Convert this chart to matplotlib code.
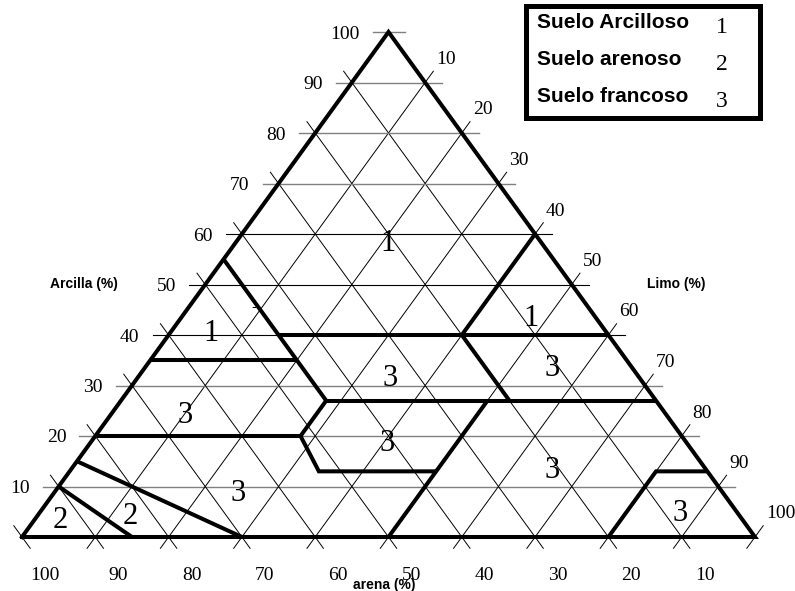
import numpy as np
import matplotlib.pyplot as plt
from matplotlib.patches import Rectangle

# ============================
# Datos (todo en %: arena, arcilla; el limo es el resto)
# ============================
MARCAS = [10, 20, 30, 40, 50, 60, 70, 80, 90, 100]
ARCILLA_NEGRAS = [40, 50, 60]  # horizontales negras, las demás grises

TRIANGULO = [(100, 0), (0, 0), (0, 100), (100, 0)]

# límites de las clases, cada uno como lista de (arena, arcilla)
LIM_ARENA_45 = [(45, 55), (45, 27)]
LIM_ARCILLA_35 = [(65, 35), (45, 35)]
LIM_ARCILLA_40 = [(45, 40), (0, 40)]
LIM_ARCILLA_27 = [(45, 27), (0, 27)]
LIM_CENTRO = [(45, 27), (52, 20), (53, 13), (37, 13)]
LIM_ARCILLA_20 = [(80, 20), (52, 20)]
LIM_LIMO_50 = [(23, 27), (50, 0)]
LIM_LIMO_40 = [(0, 60), (20, 40), (20, 27)]
LIM_LIMO_80 = [(20, 0), (7, 13), (0, 13)]
LIM_ARENOSO_A = [(90, 10), (85, 0)]
LIM_ARENOSO_B = [(85, 15), (70, 0)]

# números de clase dentro del triángulo
CLASE_TXT = ["1", "1", "1", "3", "3", "3", "3", "3", "3", "3", "2", "2"]
CLASE_ARENA = [20.7, 53.7, 8.5, 65.3, 65.9, 33.7, 40.6, 10.6, 20.7, 7.6, 92.8, 82.8]
CLASE_ARCILLA = [58.8, 41.0, 44.0, 24.8, 9.3, 32.1, 19.2, 34.1, 13.9, 5.3, 4.0, 4.8]

LEYENDA_TXT = ["Suelo Arcilloso", "Suelo arenoso", "Suelo francoso"]
LEYENDA_NUM = ["1", "2", "3"]

W, H = 795, 591
SERIF = "Liberation Serif"
SANS = "Liberation Sans"


def ter(arena, arcilla):
    """(arena, arcilla) -> coordenadas cartesianas del triángulo."""
    arena = np.asarray(arena, dtype=float)
    arcilla = np.asarray(arcilla, dtype=float)
    limo = 100.0 - arena - arcilla
    return limo / 100.0 + 0.5 * arcilla / 100.0, arcilla / 100.0


def fx(px):
    return px / W


def fy(py):
    return 1.0 - py / H


fig = plt.figure(figsize=(W / 100, H / 100), dpi=100)
ax = fig.add_axes([0, 0, 1, 1])
ax.set_xlim(-22 / 733, 773 / 733)
ax.set_ylim(-54 / 505, 537 / 505)
ax.axis("off")

EXT = 2.24          # prolongación de las diagonales (en %)
EXT_H = 16 / 733    # prolongación de las horizontales

# --- rejilla ---
for c in MARCAS:
    xl, y = ter(100 - c, c)
    xr, _ = ter(0, c)
    col = "black" if c in ARCILLA_NEGRAS else "#808080"
    lw = 0.8 if c in ARCILLA_NEGRAS else 1.0
    ax.plot([xl - EXT_H, xr + EXT_H * 1.06], [y, y], color=col, lw=lw, zorder=1)

    # arena constante (paralelas al lado derecho)
    arc = np.array([-EXT, 100 - c + EXT])
    xs, ys = ter(np.full(2, c), arc)
    ax.plot(xs, ys, color="black", lw=0.7, zorder=1)

    # limo constante (paralelas al lado izquierdo)
    xs, ys = ter(100 - c - arc, arc)
    ax.plot(xs, ys, color="black", lw=0.7, zorder=1)

# --- triángulo y límites ---
a, b = zip(*TRIANGULO)
xs, ys = ter(a, b)
ax.plot(xs, ys, color="black", lw=2.9, solid_joinstyle="miter", zorder=3)

LIMITES = [LIM_ARENA_45, LIM_ARCILLA_35, LIM_ARCILLA_40, LIM_ARCILLA_27,
           LIM_CENTRO, LIM_ARCILLA_20, LIM_LIMO_50, LIM_LIMO_40, LIM_LIMO_80,
           LIM_ARENOSO_A, LIM_ARENOSO_B]
for lim in LIMITES:
    a, b = zip(*lim)
    xs, ys = ter(a, b)
    ax.plot(xs, ys, color="black", lw=2.9, solid_joinstyle="miter",
            solid_capstyle="butt", zorder=3)

# marca suelta junto al límite de arena 45
ax.text(*ter(45.7, 45.5), "-", fontsize=10, family=SANS, ha="center",
        va="center", zorder=4)

# --- etiquetas de los ejes ---
for c in MARCAS:
    # arcilla, lado izquierdo
    ax.annotate(str(c), ter(100 - c, c), xytext=(-29, 0),
                textcoords="offset pixels", ha="right", va="center_baseline",
                fontsize=14, family=SERIF)
    # limo, lado derecho
    ax.annotate(str(c), ter(0, 100 - c), xytext=(11, 25),
                textcoords="offset pixels", ha="left", va="center_baseline",
                fontsize=14, family=SERIF)
    # arena, base
    ax.annotate(str(c), ter(c, 0), xytext=(23, -36),
                textcoords="offset pixels", ha="center", va="center_baseline",
                fontsize=14, family=SERIF)

ax.text(fx(50), fy(284), "Arcilla (%)", transform=ax.transAxes, ha="left",
        va="center", fontsize=10, fontweight="bold", family=SANS)
ax.text(fx(647), fy(284), "Limo (%)", transform=ax.transAxes, ha="left",
        va="center", fontsize=10, fontweight="bold", family=SANS)
ax.text(fx(384), fy(585), "arena (%)", transform=ax.transAxes, ha="center",
        va="center", fontsize=10, fontweight="bold", family=SANS)

# --- números de clase ---
for t, s, c in zip(CLASE_TXT, CLASE_ARENA, CLASE_ARCILLA):
    ax.text(*ter(s, c), t, ha="center", va="center_baseline", fontsize=22,
            family=SERIF, zorder=5)

# --- leyenda ---
ax.add_patch(Rectangle((fx(525.5), fy(118)), fx(760) - fx(525.5),
                       fy(5.5) - fy(118), transform=ax.transAxes,
                       facecolor="white", edgecolor="black", lw=3.6, zorder=6))
for i, (txt, num) in enumerate(zip(LEYENDA_TXT, LEYENDA_NUM)):
    base = 28 + 37 * i
    ax.text(fx(537), fy(base), txt, transform=ax.transAxes, ha="left",
            va="baseline", fontsize=15, fontweight="bold", family=SANS, zorder=7)
    ax.text(fx(722), fy(base + 5), num, transform=ax.transAxes, ha="center",
            va="baseline", fontsize=17, family=SERIF, zorder=7)

fig.savefig("out.png", dpi=100)
